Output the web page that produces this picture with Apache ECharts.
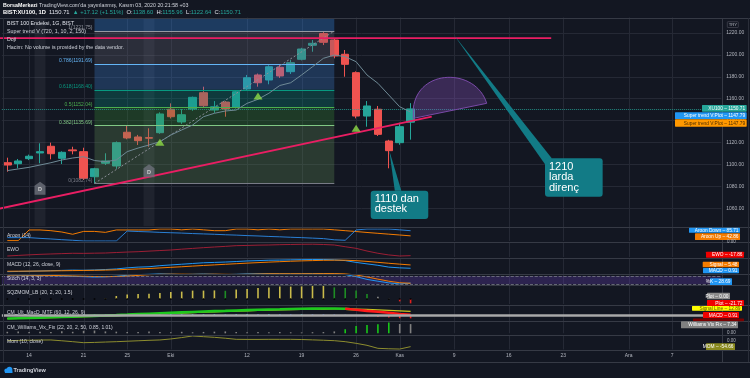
<!DOCTYPE html>
<html>
<head>
<meta charset="utf-8">
<script src="https://cdn.jsdelivr.net/npm/echarts@6/dist/echarts.min.js"></script>
<style>
html,body{margin:0;padding:0;background:#131722;}
#chart{width:750px;height:378px;}
</style>
</head>
<body>
<div id="chart"></div>
<script>
// ---------------- data ----------------
const dates = [
'2020-09-10','2020-09-11','2020-09-14','2020-09-15','2020-09-16','2020-09-17','2020-09-18',
'2020-09-21','2020-09-22','2020-09-23','2020-09-24','2020-09-25','2020-09-28','2020-09-29','2020-09-30',
'2020-10-01','2020-10-02','2020-10-05','2020-10-06','2020-10-07','2020-10-08','2020-10-09',
'2020-10-12','2020-10-13','2020-10-14','2020-10-15','2020-10-16','2020-10-19','2020-10-20','2020-10-21','2020-10-22','2020-10-23',
'2020-10-26','2020-10-27','2020-10-28','2020-10-30',
'2020-11-02','2020-11-03','2020-11-04','2020-11-05','2020-11-06','2020-11-09','2020-11-10','2020-11-11','2020-11-12','2020-11-13',
'2020-11-16','2020-11-17','2020-11-18','2020-11-19','2020-11-20','2020-11-23','2020-11-24','2020-11-25','2020-11-26','2020-11-27','2020-11-30',
'2020-12-01','2020-12-02','2020-12-03','2020-12-04','2020-12-07','2020-12-08','2020-12-09','2020-12-10','2020-12-11'];

const tickDates  = ['2020-09-14','2020-09-21','2020-09-25','2020-10-01','2020-10-12','2020-10-19','2020-10-26','2020-11-02','2020-11-09','2020-11-16','2020-11-23','2020-12-01','2020-12-07'];
const tickLabels = ['14','21','25','Eki','12','19','26','Kas','9','16','23','Ara','7'];

const open  = [1101.6,1100.7,1105.3,1110.5,1116.6,1105.6,1113.3,1111.7,1088.8,1101.1,1098.6,1129.4,1125.1,1124.5,1129.0,1150.4,1138.8,1150.6,1165.5,1149.7,1157.0,1152.2,1168.9,1181.7,1177.1,1188.7,1184.7,1196.0,1208.8,1219.5,1213.6,1200.6,1183.8,1144.2,1150.4,1121.4,1119.9,1138.60];
const close = [1099.5,1103.2,1107.5,1111.7,1109.8,1111.1,1112.5,1087.4,1096.1,1103.2,1119.9,1124.2,1121.7,1124.0,1146.1,1143.6,1145.4,1161.3,1153.6,1152.7,1150.6,1166.4,1179.2,1174.6,1189.2,1180.8,1192.9,1205.4,1210.6,1211.5,1199.0,1191.4,1144.2,1153.4,1127.5,1112.6,1134.5,1150.71];
const low   = [1093.4,1096.5,1104.0,1101.1,1104.7,1100.4,1109.3,1085.8,1082.74,1099.5,1096.0,1123.0,1117.8,1116.2,1128.0,1142.0,1137.0,1149.0,1152.0,1147.0,1143.6,1151.0,1168.0,1171.0,1173.2,1179.0,1182.6,1195.0,1202.9,1209.0,1196.9,1180.1,1142.1,1134.5,1126.0,1096.5,1118.0,1122.64];
const high  = [1106.2,1105.0,1109.0,1119.3,1119.9,1112.0,1116.2,1115.3,1097.0,1110.2,1121.0,1136.0,1127.0,1133.0,1147.6,1155.8,1150.6,1162.0,1171.0,1157.9,1158.0,1167.5,1181.7,1183.0,1190.5,1190.8,1195.4,1206.5,1213.6,1221.75,1215.2,1204.5,1185.0,1157.9,1153.4,1122.5,1138.1,1155.96];

const superTrend = [1094.4,1095.9,1097.4,1099.5,1101.6,1104.1,1105.9,1107.1,1103.6,1102.5,1104.1,1111.7,1115.0,1117.8,1120.8,1126.9,1131.5,1136.0,1143.6,1146.7,1148.8,1149.7,1155.8,1159.5,1165.0,1172.1,1174.6,1181.7,1189.2,1196.9,1199.9,1198.4,1193.8,1181.7,1174.1,1163.4,1152.7,1147.79];

const buySignalIdx   = [14, 23, 32];
const buySignalPrice = [1120.2, 1162.5, 1133.0];
const dojiIdx        = [3, 13];
const dojiLabelPrice = [1078.3, 1094.3];

const fibStartIdx = 8, fibEndIdx = 30;
const fibLevels = ['0', '0.382', '0.5', '0.618', '0.786', '1'];
const fibPrices = [1082.74, 1135.69, 1152.04, 1168.40, 1191.69, 1221.75];

const resistanceX = [-0.67, 49.9],  resistanceY = [1215.4, 1215.4];
const supportX    = [-0.67, 38.94], supportY    = [1059.8, 1143.6];

const calloutText   = ['1110 dan\ndestek', '1210\nlarda\ndirenç'];
const calloutX0     = [33.34, 49.33], calloutX1 = [38.62, 54.62];
const calloutTop    = [1076.1, 1105.6], calloutBottom = [1050.3, 1070.6];
const calloutTipX   = [35.05, 40.98], calloutTipY = [1112.6, 1218.2];
const calloutBaseX0 = [35.55, 49.38], calloutBaseY0 = [1076.1, 1099.5];
const calloutBaseX1 = [36.15, 49.95], calloutBaseY1 = [1076.1, 1105.6];

const arcX = [37.25, 37.25, 37.68, 43.0, 43.98];
const arcY = [1142.1, 1151.3, 1188.2, 1188.2, 1155.8];

const aroonUp   = [3,3,92,92,86,75,56,80,80,72,92,92,92,92,100,100,93,100,93,86,86,100,100,93,100,93,100,100,100,100,93,86,79,71,64,57,50,42.86];
const aroonDown = [28,28,28,22,17,11,6,0,0,0,0,83,79,76,72,69,66,62,59,56,52,49,45,42,38,35,31,28,24,20,10,6,92,100,100,100,93,85.71];
const ewo = [-19.6,-16.5,-13.5,-10.7,-8.8,-7,-5,-5.5,-4.5,-3.6,-1,1.5,3.4,6.5,9.5,12.5,17,21,25,28.5,32,35.7,37,38.5,39.3,41,42,43,43.5,42,39.3,30,21.4,7,-5,-14,-19.6,-17.86];
const macdLine   = [-3.8,-3.5,-3.2,-2.8,-2.4,-2.0,-1.6,-1.8,-1.4,-0.8,0.0,1.5,2.5,3.0,4.5,5.5,6.5,7.5,8.5,9.0,9.5,10.2,11.0,11.5,12.0,12.2,12.5,12.8,13.0,13.0,12.5,11.5,9.0,7.0,5.0,2.5,1.5,0.91];
const macdSignal = [-3.2,-3.1,-3.0,-2.9,-2.7,-2.5,-2.3,-2.1,-1.9,-1.6,-1.2,-0.6,0.0,0.6,1.4,2.2,3.0,3.9,4.8,5.6,6.4,7.2,8.0,8.7,9.4,10.0,10.6,11.1,11.5,11.9,12.1,12.0,11.4,10.4,9.1,7.8,6.6,5.48];
const stochK = [88,86,85,84,82,80,77,75,72,74,78,85,90,92,95,93,90,92,94,92,90,92,95,96,97,96,95,96,97,98,96,90,75,55,42,30,22,28.69];
const stochD = [87,87,86,85,84,82,80,78,76,75,76,79,84,89,92,93,93,92,92,93,92,91,92,94,96,96,96,96,96,97,97,95,87,73,57,42,31,27];
const sqzMom = [0,0,0,0,0,0,0,0,0,2,15,22,25,26,30,35,37,42,42,43,41,47,50,55,58,62,62,63,65,66,58,55,42,25,11,3,-12,-21.72];
const cmMacd   = [-12.5,-11.5,-10.5,-9.4,-8.3,-7.2,-6,-4.6,-3.2,-1.8,-0.3,1.3,3,4.6,6.2,7.8,9.4,11,12.5,13.8,15,16.4,17.6,18.8,20,20.8,21.7,22.5,23.1,23.6,23.6,22.5,19,15,11.5,8,3.3,0.91];
const cmSignal = [-13,-12.2,-11.3,-10.3,-9.3,-8.2,-7.1,-5.9,-4.6,-3.3,-1.9,-0.5,1,2.5,4,5.5,7,8.5,10,11.3,12.6,13.9,15.1,16.3,17.4,18.4,19.3,20.1,20.8,21.4,21.8,21.9,21.3,20.2,18.7,16.9,14.9,12.89];
const wvf      = [1.2,1.5,1.0,1.3,1.1,1.6,1.2,2.0,2.2,1.5,1.3,1.0,1.1,1.4,1.0,0.9,1.2,0.8,1.1,1.3,1.5,1.0,0.8,1.1,0.9,1.0,0.8,0.7,0.9,1.0,1.5,3.2,5.8,6.6,7.3,8.7,7.4,7.34];
const wvfAlert = [0,0,0,0,0,0,0,0,0,0,0,0,0,0,0,0,0,0,0,0,0,0,0,0,0,0,0,0,0,0,0,1,1,1,1,1,0,0];
const mom = [11,14,16,18,19,10,0,-11,-8,-4,0,5,10,15,19,30,45,63,55,48,38,26,25,25,26,26,26,24,20,16,11,0,-18,-40,-73,-78,-81,-54.66];

// ---------------- styling ----------------
const FF = '"Liberation Sans", Arial, sans-serif';
const BG = '#131722', GRIDC = '#252935', SEP = '#363a45', TXT = '#d1d4dc', AX = '#b2b5be';
const UP = '#26a69a', DOWN = '#ef5350';
const tickIdx = tickDates.map(d => dates.indexOf(d));
const tickMap = {}; tickDates.forEach((d, i) => tickMap[d] = tickLabels[i]);

const X0 = 1.85, XW = 719.4;
const panes = [
  {top:229,   h:12,   min:0,     max:100},
  {top:243,   h:14,   min:-25,   max:50},
  {top:259,   h:14,   min:-5.6,  max:13.7},
  {top:273.2, h:13.8, min:0,     max:100},
  {top:285.5, h:18.5, min:-25,   max:67.5},
  {top:306,   h:15,   min:-21.6, max:32.4},
  {top:322,   h:11.3, min:0,     max:9},
  {top:335.5, h:14,   min:-86,   max:68}
];

const grids = [
  {left:X0, width:XW, top:11.1, height:219.1},
  {left:0, width:721.25, top:11.1, height:219.1}
].concat(panes.map(p => ({left:X0, width:XW, top:p.top, height:p.h})));
grids.forEach(g => { g.outerBoundsMode = 'none'; g.containLabel = false; });

function catAxis(g, withLabels) {
  return {type:'category', gridIndex:g, data:dates, boundaryGap:true,
    axisLine:{show:false}, axisTick:{show:false}, splitLine:{show:false},
    axisLabel: withLabels ? {show:true, interval:(i, v) => tickMap[v] !== undefined,
      formatter:v => tickMap[v] || '', color:AX, fontSize:5, fontFamily:FF, margin:4} : {show:false}};
}
const xAxes = [catAxis(0,false), {type:'value', gridIndex:1, min:-0.6697, max:65.5, show:false}]
  .concat(panes.map((p, k) => catAxis(k + 2, k === panes.length - 1)));
const yAxes = [
  {type:'value', gridIndex:0, position:'right', min:1040, max:1240, interval:20,
   axisLine:{show:false}, axisTick:{show:false},
   axisLabel:{color:AX, fontSize:5, fontFamily:FF, margin:5, formatter:v => v.toFixed(2), showMinLabel:false, showMaxLabel:false},
   splitLine:{show:true, lineStyle:{color:GRIDC, width:1}, showMinLine:false, showMaxLine:false}},
  {type:'value', gridIndex:1, min:1040, max:1240, show:false}
].concat(panes.map((p, k) => ({type:'value', gridIndex:k + 2, min:p.min, max:p.max, show:false})));

function vgrid(xi, yi, ymin, ymax) {
  return {type:'custom', xAxisIndex:xi, yAxisIndex:yi, z:0, silent:true,
    data: tickIdx.map(i => [i, ymin]),
    renderItem:(p, api) => {
      const a = api.coord([api.value(0), ymax]), b = api.coord([api.value(0), ymin]);
      const x = Math.round(a[0]) + 0.5;
      return {type:'line', shape:{x1:x, y1:a[1], x2:x, y2:b[1]}, style:{stroke:GRIDC, lineWidth:1}};
    }};
}
function paneLine(k, data, color, width, extra) {
  return Object.assign({type:'line', xAxisIndex:k + 2, yAxisIndex:k + 2, data, symbol:'none', showSymbol:false,
    lineStyle:{color, width:width || 1}, z:3, silent:true, connectNulls:false}, extra || {});
}

const bandColors = ['rgba(96,140,87,0.30)','rgba(56,140,54,0.30)','rgba(6,140,127,0.30)','rgba(59,126,207,0.30)','rgba(99,100,117,0.30)','rgba(52,143,241,0.30)'];
const fibColors  = ['#787b86','#81c784','#4caf50','#089981','#64b5f6','#9598a1'];
const paneTopPrice = 1233.7, paneBottomPrice = 1043.7;
const bandData = fibPrices.map((p, i) => [fibStartIdx, fibEndIdx, p, i < fibPrices.length - 1 ? fibPrices[i + 1] : paneTopPrice, i]);

const sqzColors = sqzMom.map((v, i) => {
  const prev = i > 0 ? sqzMom[i - 1] : v;
  if (v < 0) return v < prev ? '#e0201e' : '#8b0000';
  if (v < prev) return v < 15 ? '#8d8d8d' : '#1e8c24';
  return '#c9bb4b';
});
const cmAbove = cmMacd.map((v, i) => v >= cmSignal[i]);
const cmGreen = cmMacd.map((v, i) => (cmAbove[i] || (i > 0 && cmAbove[i - 1])) ? v : null);
const cmRed   = cmMacd.map((v, i) => (!cmAbove[i] || (i + 1 < cmMacd.length && !cmAbove[i + 1])) ? v : null);
const cmHist  = cmMacd.map((v, i) => {
  const h = v - cmSignal[i], ph = i > 0 ? cmMacd[i - 1] - cmSignal[i - 1] : h;
  const c = h >= 0 ? (h >= ph ? '#00e5ff' : '#2962ff') : (h <= ph ? '#ff1a1a' : '#800000');
  return {value:+h.toFixed(2), itemStyle:{color:c}};
});

const series = [
  vgrid(0, 0, 1040, 1240),
  {type:'custom', xAxisIndex:1, yAxisIndex:1, z:1, silent:true,
   data: dojiIdx.map(i => [i, paneBottomPrice]),
   renderItem:(p, api) => {
     const a = api.coord([api.value(0) - 0.5, paneTopPrice]), b = api.coord([api.value(0) + 0.5, paneBottomPrice]);
     return {type:'rect', shape:{x:a[0], y:a[1], width:b[0] - a[0], height:b[1] - a[1]}, style:{fill:'rgba(255,255,255,0.055)'}};
   }},
  {type:'candlestick', xAxisIndex:0, yAxisIndex:0, z:2, barWidth:8, silent:true,
   data: open.map((o, i) => [o, close[i], low[i], high[i]]),
   itemStyle:{color:UP, color0:DOWN, borderColor:UP, borderColor0:DOWN, borderWidth:1},
   markLine:{symbol:['none','none'], silent:true, label:{show:false}, animation:false,
     data:[{yAxis:close[close.length - 1], lineStyle:{color:UP, type:'dotted', width:1, opacity:0.8}}]}},
  {type:'custom', xAxisIndex:1, yAxisIndex:1, z:3, silent:true, data:bandData,
   renderItem:(p, api) => {
     const a = api.coord([api.value(0), api.value(3)]), b = api.coord([api.value(1), api.value(2)]);
     return {type:'rect', shape:{x:a[0], y:a[1], width:b[0] - a[0], height:b[1] - a[1]}, style:{fill:bandColors[api.value(4)]}};
   }},
  {type:'custom', xAxisIndex:1, yAxisIndex:1, z:4, silent:true,
   data: fibPrices.map((p, i) => [fibStartIdx, fibEndIdx, p, i]),
   renderItem:(p, api) => {
     const i = api.value(3);
     const a = api.coord([api.value(0), api.value(2)]), b = api.coord([api.value(1), api.value(2)]);
     const y = Math.round(a[1]) + 0.5;
     return {type:'group', children:[
       {type:'line', shape:{x1:a[0], y1:y, x2:b[0], y2:y}, style:{stroke:fibColors[i], lineWidth:1}},
       {type:'text', x:a[0] - 2, y:a[1] - 0.6, style:{text:fibLevels[i] + '(' + fibPrices[i].toFixed(2) + ')', fill:fibColors[i],
         font:'5px ' + FF, align:'right', textAlign:'right', verticalAlign:'bottom', textVerticalAlign:'bottom'}}
     ]};
   }},
  {type:'custom', xAxisIndex:1, yAxisIndex:1, z:4, silent:true, data:[[fibStartIdx, fibPrices[0]]],
   renderItem:(p, api) => {
     const a = api.coord([fibStartIdx, fibPrices[0]]), b = api.coord([fibEndIdx, fibPrices[fibPrices.length - 1]]);
     return {type:'line', shape:{x1:a[0], y1:a[1], x2:b[0], y2:b[1]}, style:{stroke:'#8a8d96', lineWidth:1, lineDash:[2,2]}};
   }},
  {type:'line', xAxisIndex:0, yAxisIndex:0, data:superTrend, symbol:'none', z:5, silent:true,
   lineStyle:{color:'#6f8a96', width:1}},
  {type:'custom', xAxisIndex:1, yAxisIndex:1, z:5, silent:true, data:[[arcX[0], arcY[0]]],
   renderItem:(p, api) => {
     const q = arcX.map((x, i) => api.coord([x, arcY[i]]));
     const d = `M${q[0][0]},${q[0][1]} L${q[1][0]},${q[1][1]} C${q[2][0]},${q[2][1]} ${q[3][0]},${q[3][1]} ${q[4][0]},${q[4][1]} Z`;
     return {type:'path', shape:{pathData:d}, style:{fill:'rgba(149,86,204,0.30)', stroke:'#7a4aa8', lineWidth:1}};
   }},
  {type:'line', xAxisIndex:1, yAxisIndex:1, z:6, silent:true, symbol:'none',
   data: resistanceX.map((x, i) => [x, resistanceY[i]]), lineStyle:{color:'#e91e63', width:1.8}},
  {type:'line', xAxisIndex:1, yAxisIndex:1, z:6, silent:true, symbol:'none',
   data: supportX.map((x, i) => [x, supportY[i]]), lineStyle:{color:'#e91e63', width:1.8}},
  {type:'scatter', xAxisIndex:0, yAxisIndex:0, z:6, silent:true, symbol:'triangle', symbolSize:[9,7],
   itemStyle:{color:'#8fdc46'}, data: buySignalIdx.map((i, k) => [i, buySignalPrice[k]])},
  {type:'scatter', xAxisIndex:0, yAxisIndex:0, z:6, silent:true,
   symbol:'path://M5,0 L10,4 L10,13 L0,13 L0,4 Z', symbolSize:[11,13],
   itemStyle:{color:'#6d707b'},
   label:{show:true, formatter:'D', color:'#e6e6e6', fontSize:5.5, fontFamily:FF, fontWeight:'bold', position:'inside', offset:[0,1.5]},
   data: dojiIdx.map((i, k) => [i, dojiLabelPrice[k]])},
  {type:'custom', xAxisIndex:1, yAxisIndex:1, z:8, silent:true, data: calloutText.map((t, i) => [calloutX0[i], calloutTop[i]]),
   renderItem:(p, api) => {
     const i = p.dataIndex, C = '#127b86';
     const b0 = api.coord([calloutX0[i], calloutTop[i]]), b1 = api.coord([calloutX1[i], calloutBottom[i]]);
     const t = api.coord([calloutTipX[i], calloutTipY[i]]);
     const w0 = api.coord([calloutBaseX0[i], calloutBaseY0[i]]), w1 = api.coord([calloutBaseX1[i], calloutBaseY1[i]]);
     return {type:'group', children:[
       {type:'polygon', shape:{points:[t, w0, w1]}, style:{fill:C}},
       {type:'rect', shape:{x:b0[0], y:b0[1], width:b1[0] - b0[0], height:b1[1] - b0[1], r:3}, style:{fill:C}},
       {type:'text', x:b0[0] + 4, y:b0[1] + 3, style:{text:calloutText[i], fill:'#ffffff', font:'11px ' + FF, lineHeight:10.5,
         align:'left', textAlign:'left', verticalAlign:'top', textVerticalAlign:'top'}}
     ]};
   }}
];

panes.forEach((p, k) => series.push(vgrid(k + 2, k + 2, p.min, p.max)));
series.push(paneLine(0, aroonUp, '#f57c00'), paneLine(0, aroonDown, '#2a7fd4'));
series.push(paneLine(1, ewo, '#9c1f35'));
series.push(paneLine(2, macdLine, '#2196f3'), paneLine(2, macdSignal, '#f57c00'));
series.push(paneLine(3, stochK, '#2196f3', 1, {
  markArea:{silent:true, itemStyle:{color:'rgba(102,63,187,0.30)'}, data:[[{yAxis:20},{yAxis:80}]]},
  markLine:{silent:true, symbol:['none','none'], label:{show:false}, lineStyle:{color:'#787b86', type:'dashed', width:0.8},
    data:[{yAxis:20},{yAxis:80}]}
}), paneLine(3, stochD, '#f57c00'));
series.push({type:'bar', xAxisIndex:6, yAxisIndex:6, z:3, silent:true, barWidth:1.6,
  data: sqzMom.map((v, i) => ({value:v, itemStyle:{color:sqzColors[i]}}))});
series.push({type:'scatter', xAxisIndex:6, yAxisIndex:6, z:4, silent:true, symbolSize:2,
  itemStyle:{color:'#000000'}, data: sqzMom.map((v, i) => [i, 0])});
series.push({type:'bar', xAxisIndex:7, yAxisIndex:7, z:3, silent:true, barWidth:1.6, data:cmHist,
  markLine:{silent:true, symbol:['none','none'], label:{show:false}, lineStyle:{color:'#a9a9a9', width:2.5, type:'solid'}, data:[{yAxis:0}]}});
series.push(paneLine(5, cmSignal, '#c8c81e', 1.2));
series.push(paneLine(5, cmGreen, '#1ec81e', 2.6));
series.push(paneLine(5, cmRed, '#ff1a1a', 2.6));
series.push({type:'bar', xAxisIndex:8, yAxisIndex:8, z:3, silent:true, barWidth:1.6,
  data: wvf.map((v, i) => ({value:v, itemStyle:{color: wvfAlert[i] ? '#18c718' : '#808080'}}))});
series.push(paneLine(7, mom, '#8d8d2e'));

// ---------------- graphics ----------------
const G = [];
function T(x, y, text, size, fill, weight) {
  G.push({type:'text', x, y, z:100, silent:true, style:{text, fill:fill || TXT,
    font:(weight ? weight + ' ' : '') + (size || 5) + 'px ' + FF,
    align:'left', textAlign:'left', verticalAlign:'middle', textVerticalAlign:'middle'}});
}
function L(x1, y1, x2, y2, c, w) {
  G.push({type:'line', z:90, silent:true, shape:{x1, y1, x2, y2}, style:{stroke:c || SEP, lineWidth:w || 1}});
}
function TAG(x0, x1, y0, y1, bg, text, fg) {
  G.push({type:'rect', z:100, silent:true, shape:{x:x0, y:y0, width:x1 - x0, height:y1 - y0, r:0.6}, style:{fill:bg}});
  if (text) G.push({type:'text', z:101, silent:true, x:x1 - 1.5, y:(y0 + y1) / 2 + 0.2,
    style:{text, fill:fg || '#ffffff', font:'4.8px ' + FF, align:'right', textAlign:'right', verticalAlign:'middle', textVerticalAlign:'middle'}});
}
G.push({type:'rect', z:80, silent:true, shape:{x:0, y:0, width:750, height:17.6}, style:{fill:BG}});
[18, 227, 242, 258, 274, 285, 305, 321, 335, 350, 362].forEach(y => L(0, y + 0.5, 750, y + 0.5, SEP, 1.2));
L(722.5, 18, 722.5, 362, SEP, 1);
L(3.5, 18, 3.5, 362, '#2a2e39', 1);
L(748.5, 18, 748.5, 362, '#2a2e39', 1);

G.push({type:'text', x:3, y:5.7, z:100, silent:true, style:{
  text:"{b|BorsaMerkezi} TradingView.com'da yayınlanmış, Kasım 03, 2020 20:21:58 +03",
  fill:TXT, font:'5.3px ' + FF, align:'left', verticalAlign:'middle',
  rich:{b:{fontWeight:'bold', fill:'#ffffff', fontSize:5.3, fontFamily:FF}}}});
G.push({type:'text', x:3, y:12.8, z:100, silent:true, style:{
  text:'{b|BIST:XU100, 1D}  {w|1150.71}  {g|▲ +17.12 (+1.51%)}  {w|O:}{g|1138.60}  {w|H:}{g|1155.96}  {w|L:}{g|1122.64}  {w|C:}{g|1150.71}',
  fill:TXT, font:'5.8px ' + FF, align:'left', verticalAlign:'middle',
  rich:{b:{fontWeight:'bold', fill:'#ffffff', fontSize:5.8, fontFamily:FF},
        w:{fill:'#e0e3eb', fontSize:5.8, fontFamily:FF},
        g:{fill:'#26a69a', fontSize:5.8, fontFamily:FF}}}});
T(7, 23.3, 'BIST 100 Endeksi, 1G, BIST', 5.3, '#e0e3eb');
T(7, 31.5, 'Super trend V (720, 1, 10, 2, 150)', 5.3);
T(7, 39.6, 'Doji', 5.3);
T(7, 47.5, 'Hacim: No volume is provided by the data vendor.', 5.3);
const paneTitles = ['Aroon (14)', 'EWO', 'MACD (12, 26, close, 9)', 'Stoch (14, 3, 3)', 'SQZMOM_LB (20, 2, 20, 1.5)',
  'CM_Ult_MacD_MTF (60, 12, 26, 9)', 'CM_Williams_Vix_Fix (22, 20, 2, 50, 0.85, 1.01)', 'Mom (10, close)'];
const paneTitleY = [235.7, 249.7, 265, 279, 292.7, 313, 327.7, 341.7];
paneTitles.forEach((t, i) => T(7, paneTitleY[i], t, 5, TXT));

G.push({type:'rect', z:100, silent:true, shape:{x:727.3, y:21.7, width:11, height:5.8, r:0.6}, style:{fill:BG, stroke:'#50535e', lineWidth:0.6}});
T(728.7, 24.7, 'TRY', 4.3, AX);
TAG(702, 746.7, 105, 111.7, '#26a69a', 'XU100 – 1150.71', '#ffffff');
TAG(675, 746.7, 112.3, 119, '#2196f3', 'Super trend V:Plot – 1147.79', '#ffffff');
TAG(675, 746.7, 119.3, 126.7, '#ff9800', 'Super trend V:Plot – 1147.79', '#4a2c00');
TAG(689, 740, 227.8, 232.8, '#2196f3', 'Aroon Down – 85.71', '#ffffff');
TAG(695, 740, 233.3, 240, '#f57c00', 'Aroon Up – 42.86', '#ffffff');
T(727, 241.8, '0.00', 4.5, AX);
TAG(706, 744, 251.7, 257.7, '#f00000', 'EWO – -17.86', '#ffffff');
TAG(702.7, 739, 261.7, 267.3, '#f57c00', 'Signal – 5.48', '#ffffff');
TAG(703, 739, 268, 273.2, '#2196f3', 'MACD – 0.91', '#ffffff');
TAG(710, 732, 278.3, 285, '#2196f3', '%K – 28.69', '#ffffff');
TAG(707, 730, 292.7, 299.3, '#8c8c8c', 'Plot – 0.00', '#ffffff');
TAG(707, 744, 300, 306, '#f00000', 'Plot – -21.72', '#ffffff');
TAG(692, 742, 306, 310.7, '#ffff00', 'Signal Line – 12.89', '#5a5a00');
TAG(703, 739, 312, 318.3, '#f00000', 'MACD – 0.91', '#ffffff');
TAG(693, 744, 318.4, 321.2, '#7a0000', '', '#ffffff');
TAG(681, 738, 321.3, 328.3, '#808080', 'Williams Vix Fix – 7.34', '#ffffff');
T(727, 332.7, '0.00', 4.5, AX);
T(727, 340.8, '0.00', 4.5, AX);
TAG(706, 735, 343.3, 350, '#8a8a1e', 'MOM – -54.66', '#ffffff');

G.push({type:'circle', z:100, silent:true, shape:{cx:6.5, cy:370.8, r:2.2}, style:{fill:'#2196f3'}});
G.push({type:'circle', z:100, silent:true, shape:{cx:9.5, cy:369.5, r:2.8}, style:{fill:'#2196f3'}});
G.push({type:'rect', z:100, silent:true, shape:{x:5, y:370.5, width:7.5, height:2.5}, style:{fill:'#2196f3'}});
T(13.5, 370.5, 'TradingView', 5.5, TXT, 'bold');

const option = {
  backgroundColor: BG,
  animation: false,
  textStyle: {fontFamily: FF},
  grid: grids,
  xAxis: xAxes,
  yAxis: yAxes,
  series: series,
  graphic: {elements: G}
};
const chart = echarts.init(document.getElementById('chart'), null, {renderer:'canvas', width:750, height:378});
chart.setOption(option);
</script>
</body>
</html>
